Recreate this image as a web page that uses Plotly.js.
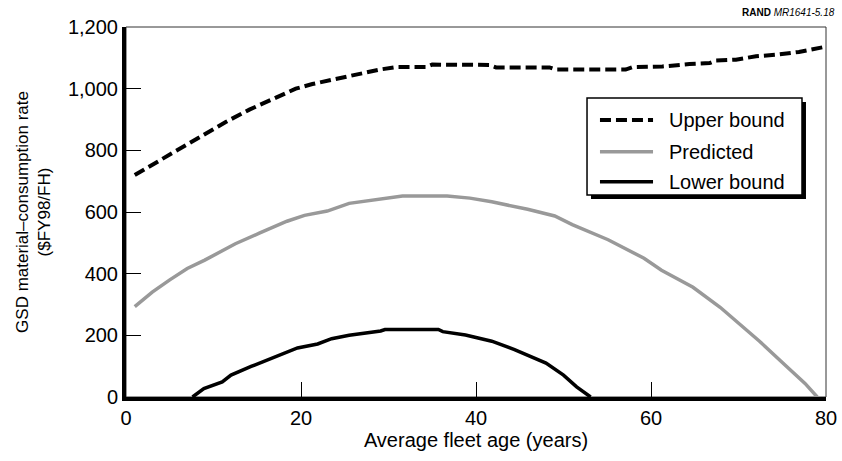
<!DOCTYPE html>
<html>
<head>
<meta charset="utf-8">
<script src="https://cdn.plot.ly/plotly-3.0.1.min.js"></script>
<style>html,body{margin:0;padding:0;background:#fff;}</style>
</head>
<body>
<div id="chart" style="width:842px;height:461px;"></div>
<script>
// Series names, in legend order
const seriesNames = ['Upper bound', 'Predicted', 'Lower bound'];

// Upper bound: average fleet age (years) vs rate ($FY98/FH)
const upperAge  = [1, 3.8, 6.3, 8.8, 11.4, 14.1, 16.8, 19.4, 21.3, 23.6, 26.7, 29, 30.9, 34.3, 35, 41.5, 42.3, 48.4, 49.1, 57.1, 57.9, 61.3, 64.4, 66.7, 67.4, 69.7, 72, 74.3, 76.9, 79.6];
const upperRate = [720, 766, 807, 851, 892, 932, 968, 1000, 1015, 1029, 1048, 1062, 1070, 1070, 1078, 1077, 1069, 1069, 1062, 1062, 1070, 1072, 1080, 1083, 1091, 1094, 1105, 1110, 1119, 1134];

// Predicted
const predAge  = [1, 3, 5, 7, 9, 11, 12.5, 15.3, 18.4, 20.4, 23, 25.5, 28.6, 31.6, 36.7, 39.3, 41.8, 45.9, 49, 51, 55.1, 59.2, 61.2, 64.8, 67.9, 70.4, 72.4, 75.5, 77.6, 79];
const predRate = [293, 340, 380, 417, 444, 475, 497, 532, 570, 589, 603, 628, 641, 652, 652, 645, 633, 609, 587, 559, 510, 450, 411, 356, 291, 230, 181, 99, 44, 0];

// Lower bound
const lowerAge  = [7.6, 8.9, 11, 12, 14.3, 16.8, 19.6, 21.9, 23.5, 25.5, 29.1, 29.6, 35.7, 36.2, 38.8, 41.8, 44.4, 48, 50, 51.5, 53.1];
const lowerRate = [0, 27, 49, 71, 99, 126, 159, 172, 189, 200, 214, 219, 219, 212, 201, 181, 154, 110, 71, 33, 0];

// Axis ticks
const xTicks = [0, 20, 40, 60, 80];
const yTicks = [0, 200, 400, 600, 800, 1000, 1200];

const FONT = '"Liberation Sans", Arial, Helvetica, sans-serif';
const styles = [
  {color: '#000000', width: 4, dash: '11px,5px'},
  {color: '#999999', width: 3.5, dash: 'solid'},
  {color: '#000000', width: 3.5, dash: 'solid'}
];

const xs = [upperAge, predAge, lowerAge];
const ys = [upperRate, predRate, lowerRate];

const traces = seriesNames.map((name, i) => ({
  type: 'scatter', mode: 'lines', name: name,
  x: xs[i], y: ys[i],
  line: {color: styles[i].color, width: styles[i].width, dash: styles[i].dash},
  hoverinfo: 'skip'
}));

// Legend box drawn in paper coordinates (with a drop shadow)
const lg = {x0: 0.6586, x1: 0.9657, y0: 0.5459, y1: 0.8081, sx0: 0.6643, sx1: 0.9714, sy0: 0.5351, sy1: 0.7973,
            lx0: 0.6771, lx1: 0.7529, tx: 0.7729, rows: [0.7486, 0.6630, 0.5819]};

const shapes = [
  // thin frame on the top and right
  {type: 'rect', xref: 'paper', yref: 'paper', x0: 0, x1: 1, y0: 0, y1: 1,
   line: {color: '#333', width: 1}, layer: 'below'},
  {type: 'rect', xref: 'paper', yref: 'paper', x0: lg.sx0, x1: lg.sx1, y0: lg.sy0, y1: lg.sy1,
   line: {width: 0}, fillcolor: '#000', layer: 'above'},
  {type: 'rect', xref: 'paper', yref: 'paper', x0: lg.x0, x1: lg.x1, y0: lg.y0, y1: lg.y1,
   line: {color: '#000', width: 1.5}, fillcolor: '#fff', layer: 'above'}
];
const annotations = [];
seriesNames.forEach((name, i) => {
  shapes.push({type: 'line', xref: 'paper', yref: 'paper', x0: lg.lx0, x1: lg.lx1, y0: lg.rows[i], y1: lg.rows[i],
    line: {color: styles[i].color, width: styles[i].width, dash: styles[i].dash}, layer: 'above'});
  annotations.push({xref: 'paper', yref: 'paper', x: lg.tx, y: lg.rows[i], xanchor: 'left', yanchor: 'middle',
    text: name, showarrow: false, font: {family: FONT, size: 20, color: '#000'}});
});
annotations.push({xref: 'paper', yref: 'paper', x: 1.0157, y: 1.0405, xanchor: 'right', yanchor: 'middle',
  text: '<b>RAND</b> <i>MR1641-5.18</i>', showarrow: false, font: {family: FONT, size: 10, color: '#000'}});

const layout = {
  width: 842, height: 461,
  margin: {l: 126, r: 16, t: 27, b: 64, pad: 0},
  paper_bgcolor: '#fff', plot_bgcolor: '#fff',
  font: {family: FONT, size: 20, color: '#000'},
  showlegend: false,
  xaxis: {
    range: [0, 80], tickvals: xTicks, ticktext: xTicks.map(String),
    ticks: 'inside', ticklen: 15, tickwidth: 1, tickcolor: '#000',
    showline: true, linewidth: 4, linecolor: '#000',
    showgrid: false, zeroline: false, fixedrange: true,
    tickfont: {family: FONT, size: 20, color: '#000'},
    title: {text: 'Average fleet age (years)', font: {family: FONT, size: 20, color: '#000'}, standoff: 6}
  },
  yaxis: {
    range: [0, 1200], tickvals: yTicks, tickformat: ',d',
    ticks: 'inside', ticklen: 15, tickwidth: 1, tickcolor: '#000',
    showline: true, linewidth: 4, linecolor: '#000',
    showgrid: false, zeroline: false, fixedrange: true,
    tickfont: {family: FONT, size: 20, color: '#000'},
    title: {text: 'GSD material–consumption rate<br>($FY98/FH)', font: {family: FONT, size: 17, color: '#000'}, standoff: 14}
  },
  shapes: shapes,
  annotations: annotations
};

Plotly.newPlot('chart', traces, layout, {displayModeBar: false, staticPlot: true});
</script>
</body>
</html>
